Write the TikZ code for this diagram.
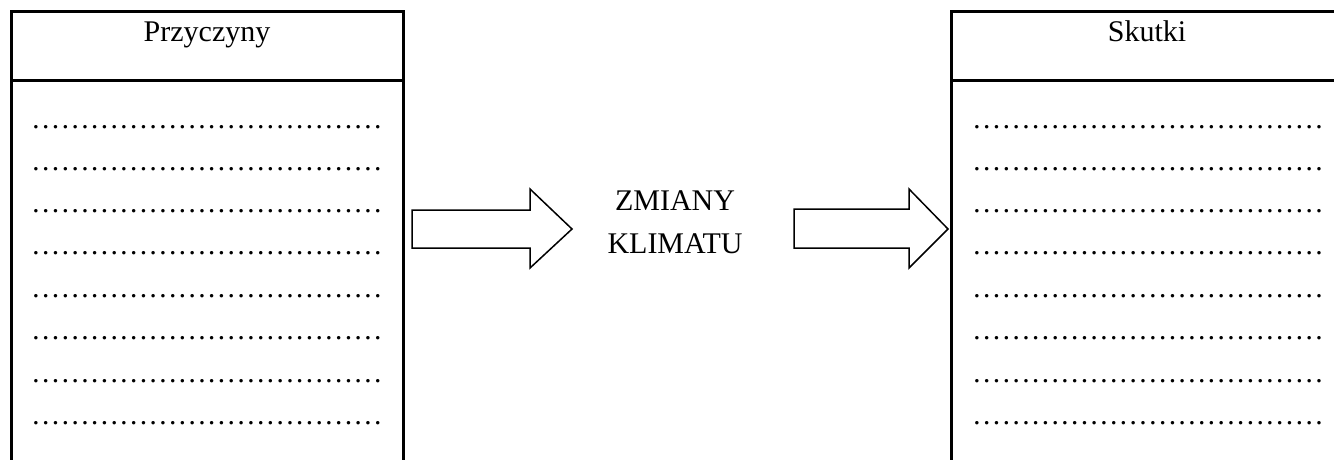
\documentclass[tikz,border=0pt]{standalone}
\usepackage{fontspec}
\setmainfont{Liberation Serif}
\begin{document}
\begin{tikzpicture}[x=1pt,y=-1pt,
  boxline/.style={line width=3pt},
  blockarrow/.style={line width=1.5pt, line join=miter},
  title/.style={font=\fontsize{30}{30}\selectfont, anchor=base, inner sep=0pt},
  dotline/.style={font=\fontsize{29.3}{30}\selectfont, anchor=base west, inner sep=0pt}
]
\useasboundingbox (0,0) rectangle (1334,459);
\clip (0,0) rectangle (1334,459);
% left box
\draw[boxline] (11,470) -- (11,11) -- (403,11) -- (403,470);
\draw[boxline] (11,80) -- (403,80);
% right box
\draw[boxline] (951,470) -- (951,11) -- (1350,11);
\draw[boxline] (951,80) -- (1350,80);
% titles
\node[title] (przy) at (207,41) {Przyczyny};
\node[title] (skut) at (1147,41) {Skutki};
\node[title] (zm) at (675,210) {ZMIANY};
\node[title] (kl) at (675,253) {KLIMATU};
% dotted lines
\foreach \i/\y in {1/128,2/170,3/212,4/254,5/297,6/339,7/382,8/424}{
  \node[dotline] (l\i) at (31,\y) {………………………………};
  \node[dotline] (r\i) at (972,\y) {………………………………};
}
% block arrows
\draw[blockarrow] (412,210) -- (530,210) -- (530,189) -- (572,229) -- (530,268) -- (530,248) -- (412,248) -- cycle;
\draw[blockarrow] (794,209) -- (909,209) -- (909,189) -- (948,229) -- (909,268) -- (909,248) -- (794,248) -- cycle;
\end{tikzpicture}
\end{document}
